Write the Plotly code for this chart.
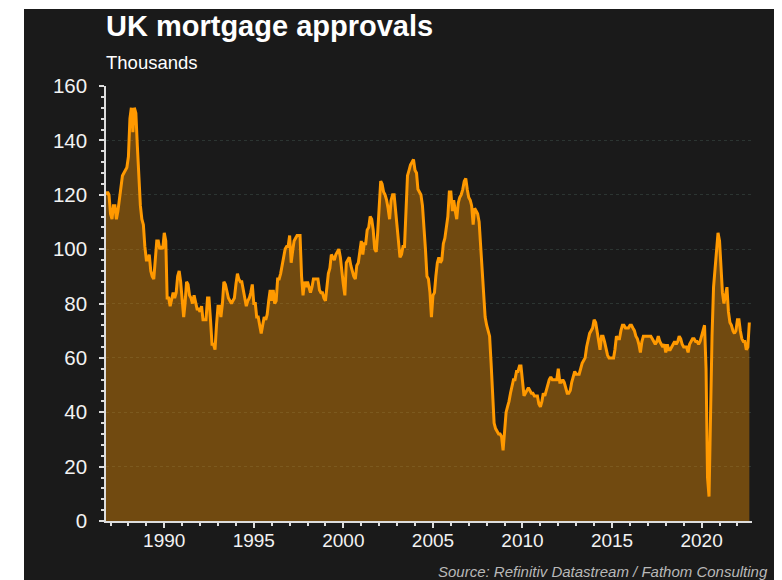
import pandas as pd
import plotly.graph_objects as go

# Monthly UK mortgage approvals (thousands)
start_month = "1986-10-01"
values_1986_1989 = [
    120, 121, 120,
    113, 111, 116, 116, 111, 114, 119, 123, 127, 128, 129, 130,
    134, 148, 152, 143, 152, 150, 138, 125, 116, 111, 109, 101,
    96, 96, 98, 92, 90, 89, 96, 103, 103, 100, 101, 100,
]
values_1990s = [
    106, 103, 82, 82, 79, 82, 84, 82, 84, 90, 92, 88,
    81, 75, 80, 88, 87, 83, 82, 80, 83, 81, 78, 78,
    77, 79, 74, 74, 74, 82, 82, 74, 65, 65, 63, 72,
    79, 79, 75, 80, 88, 87, 85, 82, 81, 80, 81, 82,
    87, 91, 89, 88, 88, 85, 82, 79, 81, 82, 84, 87,
    80, 80, 75, 75, 72, 69, 72, 75, 74, 76, 81, 85,
    81, 85, 80, 81, 89, 89, 91, 94, 98, 100, 101, 101,
    105, 95, 99, 103, 104, 105, 105, 105, 90, 83, 88, 86,
    88, 86, 84, 86, 89, 89, 89, 89, 85, 84, 84, 82,
    81, 86, 91, 93, 98, 97, 96, 98, 99, 100, 97, 91,
]
values_2000s = [
    87, 83, 95, 96, 97, 94, 92, 90, 89, 94, 95, 99,
    103, 98, 102, 102, 107, 108, 112, 111, 107, 100, 99, 106,
    118, 125, 124, 121, 120, 118, 115, 111, 118, 120, 120, 114,
    108, 102, 97, 98, 101, 101, 114, 127, 129, 131, 132, 133,
    129, 128, 122, 121, 120, 116, 109, 100, 90, 89, 84, 75,
    83, 84, 90, 95, 97, 95, 96, 102, 104, 109, 112, 121,
    121, 114, 118, 114, 111, 117, 119, 120, 122, 125, 126, 122,
    119, 118, 116, 109, 115, 114, 113, 110, 100, 90, 80, 75,
    72, 70, 68, 58, 45, 36, 34, 33, 32, 32, 31, 26,
    32, 40, 42, 44, 47, 50, 52, 52, 55, 55, 57, 57,
]
values_2010s = [
    50, 46, 47, 48, 49, 48, 47, 47, 46, 46, 46, 43,
    42, 44, 47, 46, 48, 50, 52, 53, 52, 52, 52, 52,
    56, 51, 51, 52, 51, 49, 47, 47, 48, 51, 53, 55,
    54, 54, 54, 56, 58, 59, 60, 64, 67, 69, 70, 71,
    74, 73, 70, 67, 63, 68, 68, 66, 63, 61, 60, 60,
    60, 60, 63, 68, 67, 67, 70, 72, 72, 71, 71, 71,
    72, 72, 71, 70, 68, 67, 65, 62, 66, 68, 68, 68,
    68, 68, 68, 67, 66, 65, 66, 68, 66, 65, 64, 65,
    62, 65, 63, 63, 64, 65, 66, 65, 66, 68, 67, 65,
    64, 64, 64, 62, 65, 66, 67, 67, 66, 66, 65, 66,
]
values_2020s = [
    68, 71, 72, 56, 16, 9, 40, 68, 86, 92, 99, 106,
    103, 92, 84, 80, 83, 86, 77, 73, 72, 70, 69, 70,
    74, 74, 70, 67, 66, 66, 63, 64, 73,
]

y_ticks = [0, 20, 40, 60, 80, 100, 120, 140, 160]
title_text = "<b>UK mortgage approvals</b>"
subtitle_text = "Thousands"
source_text = "<i>Source: Refinitiv Datastream / Fathom Consulting</i>"

values = values_1986_1989 + values_1990s + values_2000s + values_2010s + values_2020s
dates = pd.date_range(start_month, periods=len(values), freq="MS")

BG = "#1a1a1a"
FONT = "Liberation Sans, Arial, sans-serif"
PW, PH = 646, 435  # plot area size in px


def px(x):
    return (x - 106) / PW


def py(y):
    return (521 - y) / PH


fig = go.Figure()
fig.add_trace(go.Scatter(
    x=dates, y=values, mode="lines",
    line=dict(color="#ff9900", width=3),
    fill="tozeroy", fillcolor="rgba(255,153,0,0.38)",
    hoverinfo="x+y", showlegend=False,
))

fig.update_layout(
    width=774, height=572,
    margin=dict(l=98, r=30, t=78, b=59),
    paper_bgcolor=BG, plot_bgcolor=BG,
    font=dict(family=FONT, color="#f2f2f2"),
    showlegend=False,
    xaxis=dict(
        type="date", range=["1986-10-01", "2022-10-25"],
        tick0="1990-01-01", dtick="M60", tickformat="%Y",
        ticks="outside", ticklen=5, tickwidth=1.5, tickcolor="#dddddd",
        minor=dict(dtick="M12", tick0="1990-01-01", ticks="outside", ticklen=3,
                   tickwidth=1.5, tickcolor="#dddddd", showgrid=False),
        showline=True, linecolor="#dddddd", linewidth=1.5,
        showgrid=False, zeroline=False,
        tickfont=dict(size=19, color="#f2f2f2", family=FONT),
        ticklabelstandoff=-4,
    ),
    yaxis=dict(
        range=[0, 160], tickvals=y_ticks,
        ticks="outside", ticklen=5, tickwidth=1.5, tickcolor="#dddddd",
        minor=dict(dtick=4, ticks="outside", ticklen=3, tickwidth=1.5,
                   tickcolor="#dddddd", showgrid=False),
        showline=True, linecolor="#dddddd", linewidth=1.5,
        showgrid=True, gridcolor="#2c3532", gridwidth=1, griddash="dot",
        zeroline=False,
        tickfont=dict(size=20.5, color="#f2f2f2", family=FONT),
        ticklabelstandoff=8,
    ),
    shapes=[
        dict(type="rect", xref="paper", yref="paper", x0=-0.3, x1=px(24),
             y0=-0.3, y1=1.4, fillcolor="white", line=dict(width=0), layer="above"),
        dict(type="rect", xref="paper", yref="paper", x0=-0.3, x1=1.3,
             y0=py(9), y1=1.4, fillcolor="white", line=dict(width=0), layer="above"),
    ],
    annotations=[
        dict(text=title_text, xref="paper", yref="paper", x=px(104),
             y=py(8), xanchor="left", yanchor="top", showarrow=False,
             font=dict(size=29, color="#ffffff", family=FONT)),
        dict(text=subtitle_text, xref="paper", yref="paper", x=px(104),
             y=py(50), xanchor="left", yanchor="top", showarrow=False,
             font=dict(size=18.5, color="#ffffff", family=FONT)),
        dict(text=source_text, xref="paper", yref="paper", x=px(770),
             y=py(571), xanchor="right", yanchor="middle", showarrow=False,
             font=dict(size=15, color="#b8b8b8", family=FONT)),
    ],
)

fig.write_html("out.html")
